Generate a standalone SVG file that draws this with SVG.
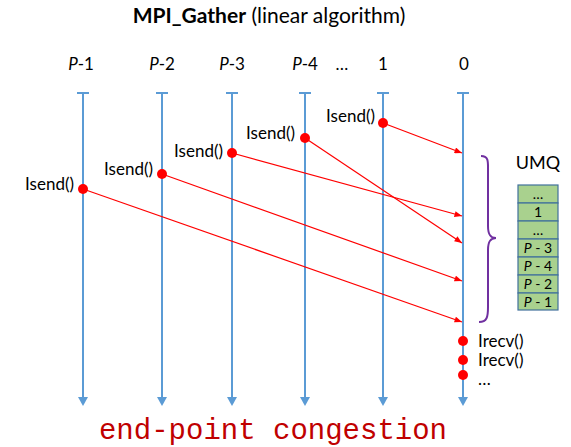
<svg xmlns="http://www.w3.org/2000/svg" width="571" height="447" viewBox="0 0 571 447">
  <defs>
    <marker id="blueHead" viewBox="0 0 9 10" refX="0" refY="5" markerWidth="9" markerHeight="10" markerUnits="userSpaceOnUse" orient="auto">
      <path d="M0,0 L9,5 L0,10 Z" fill="#5b9bd5"/>
    </marker>
    <marker id="redHead" viewBox="0 0 10 8" refX="10" refY="4" markerWidth="8" markerHeight="6" markerUnits="userSpaceOnUse" orient="auto">
      <path d="M0,0 L10,4 L0,8 Z" fill="#ff0000"/>
    </marker>
  </defs>
  <style>
    .lbl { font-family: Lato, "Open Sans", "Liberation Sans", sans-serif; font-size: 17px; fill: #000; }
    .life { stroke: #5b9bd5; stroke-width: 2; fill: none; }
    .msg { stroke: #ff0000; stroke-width: 1.2; fill: none; marker-end: url(#redHead); }
    .dot { fill: #ff0000; }
    .cell { fill: #a9d18e; stroke: #41719c; stroke-width: 1.2; }
    .cellt { font-family: Lato, "Open Sans", "Liberation Sans", sans-serif; font-size: 14px; fill: #000; text-anchor: middle; }
  </style>
  <rect width="571" height="447" fill="#ffffff"/>

  <!-- title -->
  <text x="269" y="23" text-anchor="middle" font-family="Lato, 'Open Sans', 'Liberation Sans', sans-serif" font-size="21" fill="#000"><tspan font-weight="bold">MPI_Gather</tspan> (linear algorithm)</text>

  <!-- process headers -->
  <g id="headers" class="lbl" text-anchor="middle">
    <text x="81" y="70"><tspan font-style="italic">P</tspan>-1</text>
    <text x="162" y="70"><tspan font-style="italic">P</tspan>-2</text>
    <text x="232" y="70"><tspan font-style="italic">P</tspan>-3</text>
    <text x="305" y="70"><tspan font-style="italic">P</tspan>-4</text>
    <text x="342" y="70">…</text>
    <text x="383" y="70">1</text>
    <text x="464" y="70">0</text>
  </g>

  <!-- timelines -->
  <g id="lifelines">
    <g id="life-p1"><path class="life" d="M77,93 H89 M83,93 V397" marker-end="url(#blueHead)"/></g>
    <g id="life-p2"><path class="life" d="M156,93 H168 M162,93 V397" marker-end="url(#blueHead)"/></g>
    <g id="life-p3"><path class="life" d="M226,93 H238 M232,93 V397" marker-end="url(#blueHead)"/></g>
    <g id="life-p4"><path class="life" d="M299,93 H311 M305,93 V397" marker-end="url(#blueHead)"/></g>
    <g id="life-1"><path class="life" d="M377,93 H389 M383,93 V397" marker-end="url(#blueHead)"/></g>
    <g id="life-0"><path class="life" d="M457,93 H469 M463,93 V397" marker-end="url(#blueHead)"/></g>
  </g>

  <!-- messages -->
  <g id="connectors">
    <path class="msg" d="M383,123 L462,153"/>
    <path class="msg" d="M232,153 L462,216"/>
    <path class="msg" d="M305,138 L462,243"/>
    <path class="msg" d="M162,174 L462,281"/>
    <path class="msg" d="M83,189 L462,322"/>
  </g>

  <!-- send points -->
  <g id="sends">
    <g id="send-p1"><circle class="dot" cx="83" cy="189" r="5"/><text class="lbl" x="74" y="190" text-anchor="end">Isend()</text></g>
    <g id="send-p2"><circle class="dot" cx="162" cy="174" r="5"/><text class="lbl" x="153" y="175" text-anchor="end">Isend()</text></g>
    <g id="send-p3"><circle class="dot" cx="232" cy="153" r="5"/><text class="lbl" x="223" y="157" text-anchor="end">Isend()</text></g>
    <g id="send-p4"><circle class="dot" cx="305" cy="138" r="5"/><text class="lbl" x="295" y="139" text-anchor="end">Isend()</text></g>
    <g id="send-1"><circle class="dot" cx="383" cy="123" r="5"/><text class="lbl" x="375" y="122" text-anchor="end">Isend()</text></g>
  </g>

  <!-- receives at root -->
  <g id="recvs">
    <circle class="dot" cx="463" cy="341" r="5"/>
    <circle class="dot" cx="463" cy="360" r="5"/>
    <circle class="dot" cx="463" cy="375" r="5"/>
    <text class="lbl" x="478" y="347">Irecv()</text>
    <text class="lbl" x="478" y="366">Irecv()</text>
    <text class="lbl" x="478" y="385">…</text>
  </g>

  <!-- brace -->
  <g id="brace">
    <path d="M481,156 C489,156 488,162 488,172 V226 C488,234 490,238 496,238 C490,238 488,242 488,250 V307 C488,317 487,322 479,322" fill="none" stroke="#7030a0" stroke-width="2"/>
  </g>

  <!-- unexpected message queue -->
  <g id="umq">
    <text x="538" y="169" text-anchor="middle" font-family="Lato, 'Open Sans', 'Liberation Sans', sans-serif" font-size="18" fill="#000">UMQ</text>
    <rect class="cell" x="518" y="185" width="40" height="18"/>
    <rect class="cell" x="518" y="203" width="40" height="18"/>
    <rect class="cell" x="518" y="221" width="40" height="18"/>
    <rect class="cell" x="518" y="239" width="40" height="18"/>
    <rect class="cell" x="518" y="257" width="40" height="18"/>
    <rect class="cell" x="518" y="275" width="40" height="18"/>
    <rect class="cell" x="518" y="293" width="40" height="17"/>
    <text class="cellt" x="538" y="199">…</text>
    <text class="cellt" x="538" y="217">1</text>
    <text class="cellt" x="538" y="235">…</text>
    <text class="cellt" x="538" y="253"><tspan font-style="italic">P</tspan> - 3</text>
    <text class="cellt" x="538" y="271"><tspan font-style="italic">P</tspan> - 4</text>
    <text class="cellt" x="538" y="289"><tspan font-style="italic">P</tspan> - 2</text>
    <text class="cellt" x="538" y="307"><tspan font-style="italic">P</tspan> - 1</text>
  </g>

  <!-- caption -->
  <text x="273" y="439" text-anchor="middle" font-family="'Liberation Mono', monospace" font-size="29" fill="#c00000">end-point congestion</text>
</svg>
